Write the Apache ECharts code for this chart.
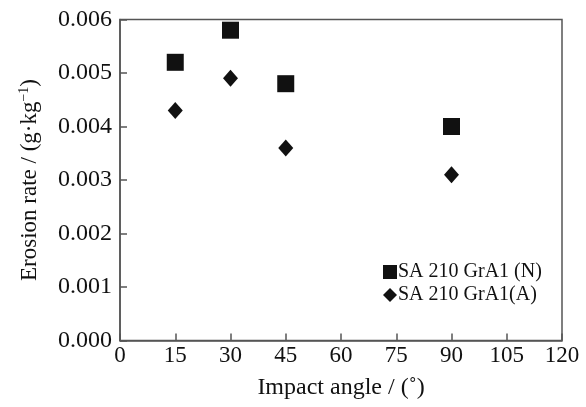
<!DOCTYPE html>
<html>
<head>
<meta charset="utf-8">
<script src="https://cdn.jsdelivr.net/npm/echarts@6/dist/echarts.min.js"></script>
<style>
  html, body { margin: 0; padding: 0; background: #fff; }
  #chart { width: 586px; height: 407px; }
</style>
</head>
<body>
<div id="chart"></div>
<script>
// Impact angle (degrees) vs erosion rate (g·kg^-1)
const angles = [15, 30, 45, 90];
const rateN = [0.0052, 0.0058, 0.0048, 0.0040];
const rateA = [0.0043, 0.0049, 0.0036, 0.0031];
const seriesNames = ['SA 210 GrA1 (N)', 'SA 210 GrA1(A)'];

const FONT = 'Liberation Serif';
const AXIS_COLOR = '#555';
const INK = '#111';

const chart = echarts.init(document.getElementById('chart'));
chart.setOption({
  animation: false,
  backgroundColor: '#fff',
  grid: {
    left: 120, right: 24, top: 19.5, bottom: 66.5,
    show: true, borderColor: AXIS_COLOR, borderWidth: 1.5, backgroundColor: 'transparent'
  },
  legend: {
    orient: 'vertical',
    left: 378, top: 257,
    itemWidth: 14, itemHeight: 14, itemGap: 3,
    textStyle: { fontFamily: FONT, fontSize: 20, color: INK, padding: [0, 0, 0, -4] },
    data: [
      { name: seriesNames[0], icon: 'rect' },
      { name: seriesNames[1], icon: 'diamond' }
    ]
  },
  xAxis: {
    type: 'value',
    min: 0, max: 120, interval: 15,
    name: 'Impact angle / (˚)',
    nameLocation: 'middle', nameGap: 35,
    nameTextStyle: { fontFamily: FONT, fontSize: 24, color: INK },
    axisLine: { show: true, lineStyle: { color: AXIS_COLOR, width: 1.5 } },
    axisTick: { show: true, inside: true, length: 7, lineStyle: { color: AXIS_COLOR, width: 1.5 } },
    axisLabel: { fontFamily: FONT, fontSize: 23, color: INK, margin: 4 },
    splitLine: { show: false }
  },
  yAxis: {
    type: 'value',
    min: 0, max: 0.006, interval: 0.001,
    name: '{t|Erosion rate / (g·kg}{s|−1}{t|)}',
    nameLocation: 'middle', nameGap: 77,
    nameTextStyle: {
      rich: {
        t: { fontFamily: FONT, fontSize: 23, color: INK },
        s: { fontFamily: FONT, fontSize: 14, color: INK, verticalAlign: 'top', padding: [0, 0, 12, 0] }
      }
    },
    axisLine: { show: true, lineStyle: { color: AXIS_COLOR, width: 1.5 } },
    axisTick: { show: true, inside: true, length: 7, lineStyle: { color: AXIS_COLOR, width: 1.5 } },
    axisLabel: {
      fontFamily: FONT, fontSize: 24, color: INK, margin: 8,
      formatter: v => v.toFixed(3)
    },
    splitLine: { show: false }
  },
  series: [
    {
      name: seriesNames[0],
      type: 'scatter',
      symbol: 'rect',
      symbolSize: 17,
      itemStyle: { color: INK, opacity: 1 },
      data: angles.map((a, i) => [a, rateN[i]])
    },
    {
      name: seriesNames[1],
      type: 'scatter',
      symbol: 'diamond',
      symbolSize: [15, 17],
      itemStyle: { color: INK, opacity: 1 },
      data: angles.map((a, i) => [a, rateA[i]])
    }
  ]
});
</script>
</body>
</html>
